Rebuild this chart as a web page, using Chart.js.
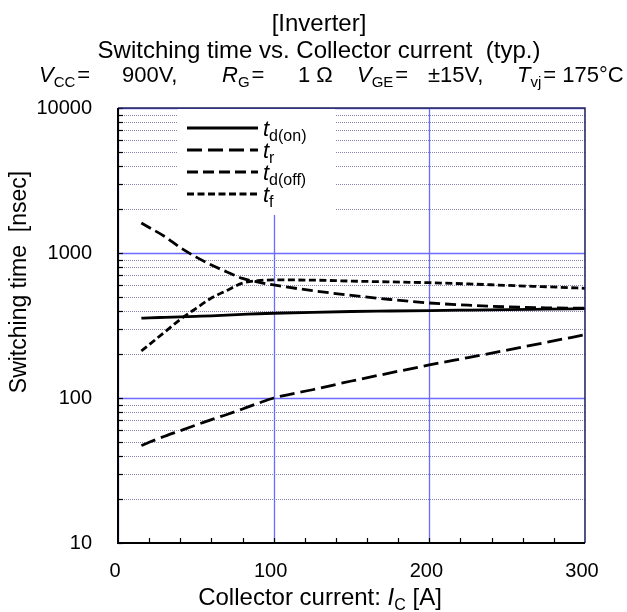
<!DOCTYPE html>
<html><head><meta charset="utf-8">
<script src="https://cdn.jsdelivr.net/npm/chart.js@4/dist/chart.umd.min.js"></script>
<style>html,body{margin:0;padding:0;background:#fff}</style>
</head><body>
<canvas id="c" width="627" height="612"></canvas>
<script>
// Switching times vs. collector current (typ.), inverter IGBT
const currentA = [15, 20, 30, 40, 50, 60, 70, 80, 90, 100, 125, 150, 175, 200, 225, 250, 275, 300];
const tdOn  = [355, 357, 360, 363, 366, 369, 373, 377, 381, 384, 390, 395, 398, 401, 404, 407, 410, 413];
const tR    = [47, 49.5, 54.5, 59.5, 65, 71, 77, 84, 92, 100, 114, 131, 149, 169, 190, 214, 242, 273];
const tdOff = [1610, 1500, 1300, 1090, 940, 826, 740, 668, 630, 602, 550, 510, 478, 452, 437, 425, 419, 416];
const tF    = [211, 233, 285, 348, 414, 489, 552, 620, 645, 652, 650, 640, 632, 624, 612, 598, 585, 571];
const seriesSubs = ['d(on)', 'r', 'd(off)', 'f'];
const xTicks = [0, 100, 200, 300];
const xMinorTicks = [20, 40, 60, 80, 100, 120, 140, 160, 180, 200, 220, 240, 260, 280];
const yTicks = [10, 100, 1000, 10000];
const yMinorSteps = [2, 3, 4, 5, 6, 7, 8, 9];

const FONT = '"Liberation Sans", Arial, sans-serif';
const pts = arr => arr.map((v, i) => ({ x: currentA[i], y: v }));

// draw a run of text pieces: {t, it (italic), sub (subscript)}
function drawRich(ctx, x, y, parts, size, subSize) {
  let cx = x;
  parts.forEach(p => {
    const fs = p.sub ? subSize : size;
    ctx.font = (p.it ? 'italic ' : '') + fs + 'px ' + FONT;
    ctx.fillText(p.t, cx, p.sub ? y + size * 0.22 : y);
    cx += ctx.measureText(p.t).width + (p.gap || 0);
  });
  return cx - x;
}
function richWidth(ctx, parts, size, subSize) {
  let w = 0;
  parts.forEach(p => {
    ctx.font = (p.it ? 'italic ' : '') + (p.sub ? subSize : size) + 'px ' + FONT;
    w += ctx.measureText(p.t).width + (p.gap || 0);
  });
  return w;
}

const gridAndLegend = {
  id: 'gridAndLegend',
  beforeDatasetsDraw(chart) {
    const { ctx, chartArea: a, scales: { x, y } } = chart;
    ctx.save();
    ctx.beginPath(); ctx.rect(a.left, a.top, a.right - a.left, a.bottom - a.top); ctx.clip();
    // minor horizontal grid (dotted)
    ctx.strokeStyle = '#8484b0'; ctx.lineWidth = 1; ctx.setLineDash([1, 1]);
    yTicks.slice(0, -1).forEach(d => yMinorSteps.forEach(m => {
      const py = Math.round(y.getPixelForValue(d * m)) + 0.5;
      ctx.beginPath(); ctx.moveTo(a.left, py); ctx.lineTo(a.right, py); ctx.stroke();
    }));
    // major grid (solid blue)
    ctx.setLineDash([]); ctx.strokeStyle = '#6b6bff'; ctx.lineWidth = 1.3;
    yTicks.forEach(v => {
      const py = Math.round(y.getPixelForValue(v)) + 0.5;
      ctx.beginPath(); ctx.moveTo(a.left, py); ctx.lineTo(a.right, py); ctx.stroke();
    });
    xTicks.forEach(v => {
      const px = Math.round(x.getPixelForValue(v)) + 0.5;
      ctx.beginPath(); ctx.moveTo(px, a.top); ctx.lineTo(px, a.bottom); ctx.stroke();
    });
    ctx.restore();

    // legend
    const lx = a.left + 60, ly = a.top + 1, lw = 157, lh = 106;
    ctx.save();
    ctx.fillStyle = '#fff'; ctx.fillRect(lx, ly, lw, lh);
    chart.data.datasets.forEach((ds, i) => {
      const ry = ly + 19 + i * 22;
      ctx.strokeStyle = '#000'; ctx.lineWidth = ds.borderWidth;
      ctx.setLineDash(ds.borderDash || []);
      ctx.beginPath(); ctx.moveTo(lx + 9, ry); ctx.lineTo(lx + 80, ry); ctx.stroke();
      ctx.setLineDash([]);
      ctx.fillStyle = '#000'; ctx.textBaseline = 'alphabetic'; ctx.textAlign = 'left';
      drawRich(ctx, lx + 85, ry + 8, [{ t: 't', it: true }, { t: seriesSubs[i], sub: true }], 22, 16);
    });
    ctx.restore();
  },
  afterDatasetsDraw(chart) {
    const { ctx, chartArea: a, scales: { x, y } } = chart;
    ctx.save();
    // inward tick marks
    ctx.strokeStyle = '#000'; ctx.lineWidth = 1.2;
    xMinorTicks.forEach(v => {
      const px = Math.round(x.getPixelForValue(v)) + 0.5;
      ctx.beginPath(); ctx.moveTo(px, a.bottom); ctx.lineTo(px, a.bottom - 5); ctx.stroke();
    });
    yTicks.forEach(d => [1, ...yMinorSteps].forEach(m => {
      const v = d * m; if (v > 10000) return;
      const py = Math.round(y.getPixelForValue(v)) + 0.5;
      ctx.beginPath(); ctx.moveTo(a.left, py); ctx.lineTo(a.left + 5, py); ctx.stroke();
    }));
    // frame
    ctx.strokeStyle = '#20205a'; ctx.lineWidth = 1.5;
    ctx.beginPath(); ctx.moveTo(a.left, a.top); ctx.lineTo(a.right, a.top); ctx.lineTo(a.right, a.bottom); ctx.stroke();
    ctx.strokeStyle = '#000'; ctx.lineWidth = 2;
    ctx.beginPath(); ctx.moveTo(a.left, a.top); ctx.lineTo(a.left, a.bottom); ctx.lineTo(a.right, a.bottom); ctx.stroke();
    ctx.restore();
  },
  afterDraw(chart) {
    const { ctx } = chart;
    ctx.save();
    ctx.fillStyle = '#000'; ctx.textBaseline = 'alphabetic';
    ctx.textAlign = 'center';
    ctx.font = '24px ' + FONT;
    ctx.fillText('[Inverter]', 319, 31);
    ctx.fillText('Switching time vs. Collector current  (typ.)', 319, 58);
    // operating conditions
    ctx.textAlign = 'left';
    const cond = [
      [39,  [{ t: 'V', it: true }, { t: 'CC', sub: true, gap: 2 }, { t: '=' }]],
      [122, [{ t: '900V,' }]],
      [222, [{ t: 'R', it: true }, { t: 'G', sub: true, gap: 2 }, { t: '=' }]],
      [298, [{ t: '1 Ω' }]],
      [357, [{ t: 'V', it: true }, { t: 'GE', sub: true, gap: 2 }, { t: '=' }]],
      [428, [{ t: '±15V,' }]],
      [517, [{ t: 'T', it: true }, { t: 'vj', sub: true, gap: 2 }, { t: '= 175°C' }]]
    ];
    cond.forEach(([cx, parts]) => drawRich(ctx, cx, 82, parts, 22, 15));
    // x-axis title
    const xt = [{ t: 'Collector current: ' }, { t: 'I', it: true }, { t: 'C', sub: true }, { t: ' [A]' }];
    const w = richWidth(ctx, xt, 24, 16);
    drawRich(ctx, 320 - w / 2, 605, xt, 24, 16);
    // y-axis title
    ctx.translate(26, 282); ctx.rotate(-Math.PI / 2);
    ctx.textAlign = 'center'; ctx.font = '23px ' + FONT;
    ctx.fillText('Switching time  [nsec]', 0, 0);
    ctx.restore();
  }
};

const mk = (data, dash) => ({
  data: pts(data), borderColor: '#000', borderWidth: 2.8, borderDash: dash,
  pointRadius: 0, fill: false, cubicInterpolationMode: 'monotone', borderCapStyle: 'butt'
});

new Chart(document.getElementById('c'), {
  type: 'line',
  data: {
    datasets: [
      { label: 'td(on)', ...mk(tdOn, []) },
      { label: 'tr', ...mk(tR, [15, 6]) },
      { label: 'td(off)', ...mk(tdOff, [11, 5]) },
      { label: 'tf', ...mk(tF, [7, 3.5]) }
    ]
  },
  options: {
    responsive: false, animation: false, devicePixelRatio: 1,
    layout: { padding: { top: 108, right: 42, left: 0, bottom: 0 } },
    plugins: { legend: { display: false }, title: { display: false }, tooltip: { enabled: false } },
    scales: {
      x: {
        type: 'linear', min: 0, max: 300,
        afterBuildTicks: s => { s.ticks = xTicks.map(v => ({ value: v })); },
        afterFit: s => { s.height = 69; },
        grid: { display: false, drawTicks: false }, border: { display: false },
        ticks: { color: '#000', font: { family: FONT, size: 20 }, padding: 16, labelOffset: -3, maxRotation: 0 }
      },
      y: {
        type: 'logarithmic', min: 10, max: 10000,
        afterBuildTicks: s => { s.ticks = yTicks.map(v => ({ value: v })); },
        afterFit: s => { s.width = 118; },
        grid: { display: false, drawTicks: false }, border: { display: false },
        ticks: { color: '#000', font: { family: FONT, size: 20 }, padding: 26, callback: v => String(v) }
      }
    }
  },
  plugins: [gridAndLegend]
});
</script>
</body></html>
